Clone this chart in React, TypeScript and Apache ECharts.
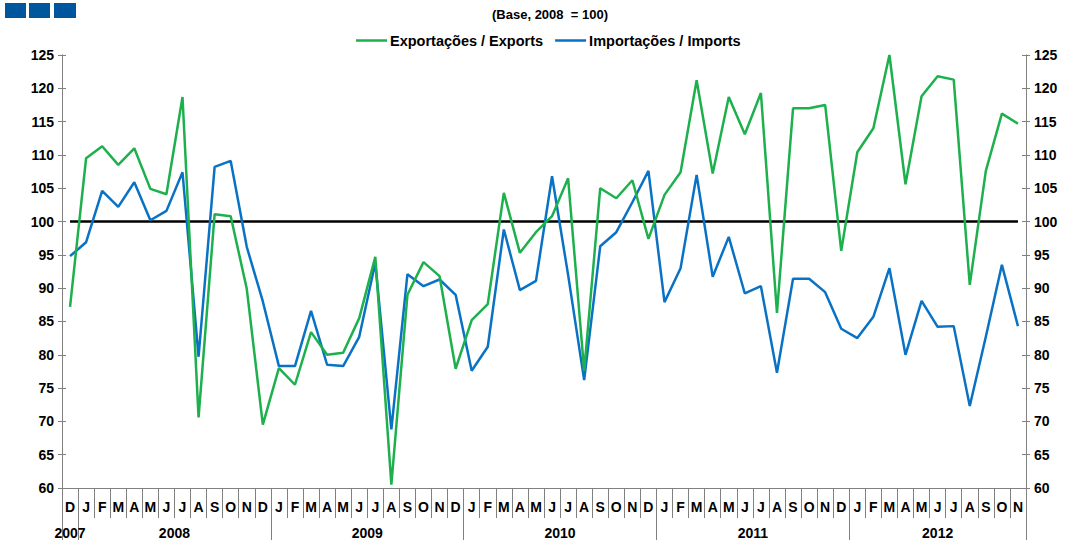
import React, { useEffect, useRef } from "react";
import * as echarts from "echarts";

const MONTHS = ["D","J","F","M","A","M","J","J","A","S","O","N","D","J","F","M","A","M","J","J","A","S","O","N","D","J","F","M","A","M","J","J","A","S","O","N","D","J","F","M","A","M","J","J","A","S","O","N","D","J","F","M","A","M","J","J","A","S","O","N"];
const YEARS = ["2007","2008","2009","2010","2011","2012"];
const YEAR_LABEL_INDEX = [0, 6, 18, 30, 42, 54];
const YEAR_SHIFTED = [false, true, true, true, true, false];

const EXPORTS = [87.2,109.5,111.3,108.5,111.0,104.9,104.1,118.7,70.6,101.1,100.8,89.9,69.5,78.0,75.5,83.4,80.0,80.3,85.5,94.7,60.5,89.0,93.9,91.8,77.9,85.2,87.6,104.3,95.3,98.4,100.8,106.5,77.6,105.0,103.5,106.2,97.4,104.0,107.4,121.2,107.2,118.7,113.1,119.3,86.3,117.0,117.0,117.5,95.6,110.4,114.0,125.0,105.6,118.8,121.8,121.3,90.5,107.6,116.2,114.7];
const IMPORTS = [94.8,96.9,104.6,102.2,105.9,100.2,101.6,107.4,79.7,108.2,109.1,96.2,88.0,78.3,78.3,86.6,78.5,78.3,82.7,93.8,68.8,92.1,90.3,91.3,89.0,77.6,81.2,98.8,89.7,91.1,106.8,92.0,76.2,96.3,98.4,102.9,107.6,87.9,93.0,107.0,91.7,97.7,89.2,90.3,77.3,91.4,91.4,89.4,83.9,82.5,85.7,93.0,80.0,88.1,84.2,84.3,72.3,82.7,93.5,84.3];
const BASE_VALUE = 100;
const BASELINE = MONTHS.map(() => BASE_VALUE);

const NAME_EXP = "Exportações / Exports";
const NAME_IMP = "Importações / Imports";
const FONT = "Liberation Sans, Arial, sans-serif";
const AXIS_FS = 14;

export default function App() {
  const ref = useRef<HTMLDivElement>(null);
  useEffect(() => {
    if (!ref.current) return;
    const chart = echarts.init(ref.current, null, { renderer: "svg" });
    const yAxisBase = (position: "left" | "right", inside: boolean) => ({
      type: "value",
      position,
      min: 60,
      max: 125,
      interval: 5,
      splitLine: { show: false },
      axisLine: { show: true, lineStyle: { color: "#808080", width: 1 } },
      axisTick: { show: true, inside, length: 4, lineStyle: { color: "#808080" } },
      axisLabel: {
        show: !inside,
        color: "#000",
        fontFamily: FONT,
        fontWeight: "bold",
        fontSize: AXIS_FS,
        margin: 8,
      },
    });
    chart.setOption({
      animation: false,
      textStyle: { fontFamily: FONT },
      graphic: [
        { type: "rect", left: 5, top: 3, shape: { width: 21, height: 15 }, style: { fill: "#00569D" } },
        { type: "rect", left: 29, top: 3, shape: { width: 21, height: 15 }, style: { fill: "#00569D" } },
        { type: "rect", left: 54, top: 3, shape: { width: 22, height: 15 }, style: { fill: "#00569D" } },
      ],
      title: {
        text: "(Base, 2008  = 100)",
        left: 545,
        textAlign: "center",
        top: 3,
        textStyle: { fontFamily: FONT, fontWeight: "bold", fontSize: 13, color: "#000" },
      },
      legend: {
        data: [NAME_EXP, NAME_IMP],
        top: 28,
        left: 351,
        icon: "rect",
        itemWidth: 31,
        itemHeight: 2.5,
        itemGap: 12,
        textStyle: { fontFamily: FONT, fontWeight: "bold", fontSize: 14.5, color: "#000", padding: [0, 0, 0, -2] },
      },
      grid: { left: 62, right: 43, top: 55, bottom: 56 },
      xAxis: [
        {
          type: "category",
          data: MONTHS,
          boundaryGap: true,
          axisLine: { show: true, lineStyle: { color: "#808080" } },
          axisTick: { show: true, interval: 0, length: 30, lineStyle: { color: "#808080" } },
          axisLabel: {
            interval: 0,
            color: "#000",
            fontFamily: FONT,
            fontWeight: "bold",
            fontSize: AXIS_FS,
            margin: 12,
          },
        },
        {
          type: "category",
          data: MONTHS,
          position: "bottom",
          boundaryGap: true,
          axisLine: { show: false },
          axisTick: {
            show: true,
            length: 52,
            interval: (idx: number) => idx % 12 === 1 || idx === 0 || idx >= MONTHS.length,
            lineStyle: { color: "#808080" },
          },
          axisLabel: {
            interval: 0,
            margin: 38,
            color: "#000",
            fontFamily: FONT,
            fontWeight: "bold",
            fontSize: AXIS_FS,
            formatter: (_v: string, idx: number) => {
              const k = YEAR_LABEL_INDEX.indexOf(idx);
              if (k < 0) return "";
              return YEAR_SHIFTED[k] ? `{s|${YEARS[k]}}` : `{n|${YEARS[k]}}`;
            },
            rich: {
              s: { padding: [0, 0, 0, 16], fontFamily: FONT, fontWeight: "bold", fontSize: AXIS_FS, color: "#000" },
              n: { fontFamily: FONT, fontWeight: "bold", fontSize: AXIS_FS, color: "#000" },
            },
          },
        },
      ],
      yAxis: [
        yAxisBase("left", false),
        yAxisBase("right", false),
        yAxisBase("left", true),
        yAxisBase("right", true),
      ],
      series: [
        {
          name: "Base",
          type: "line",
          data: BASELINE,
          symbol: "none",
          silent: true,
          lineStyle: { color: "#000", width: 2.5 },
          z: 1,
        },
        {
          name: NAME_EXP,
          type: "line",
          data: EXPORTS,
          symbol: "none",
          itemStyle: { color: "#1DB04D" },
          lineStyle: { color: "#1DB04D", width: 2.5 },
          z: 3,
        },
        {
          name: NAME_IMP,
          type: "line",
          data: IMPORTS,
          symbol: "none",
          itemStyle: { color: "#0A72C4" },
          lineStyle: { color: "#0A72C4", width: 2.5 },
          z: 2,
        },
      ],
    });
    return () => chart.dispose();
  }, []);
  return <div ref={ref} style={{ width: 1069, height: 544, position: "absolute", left: 0, top: 0 }} />;
}
